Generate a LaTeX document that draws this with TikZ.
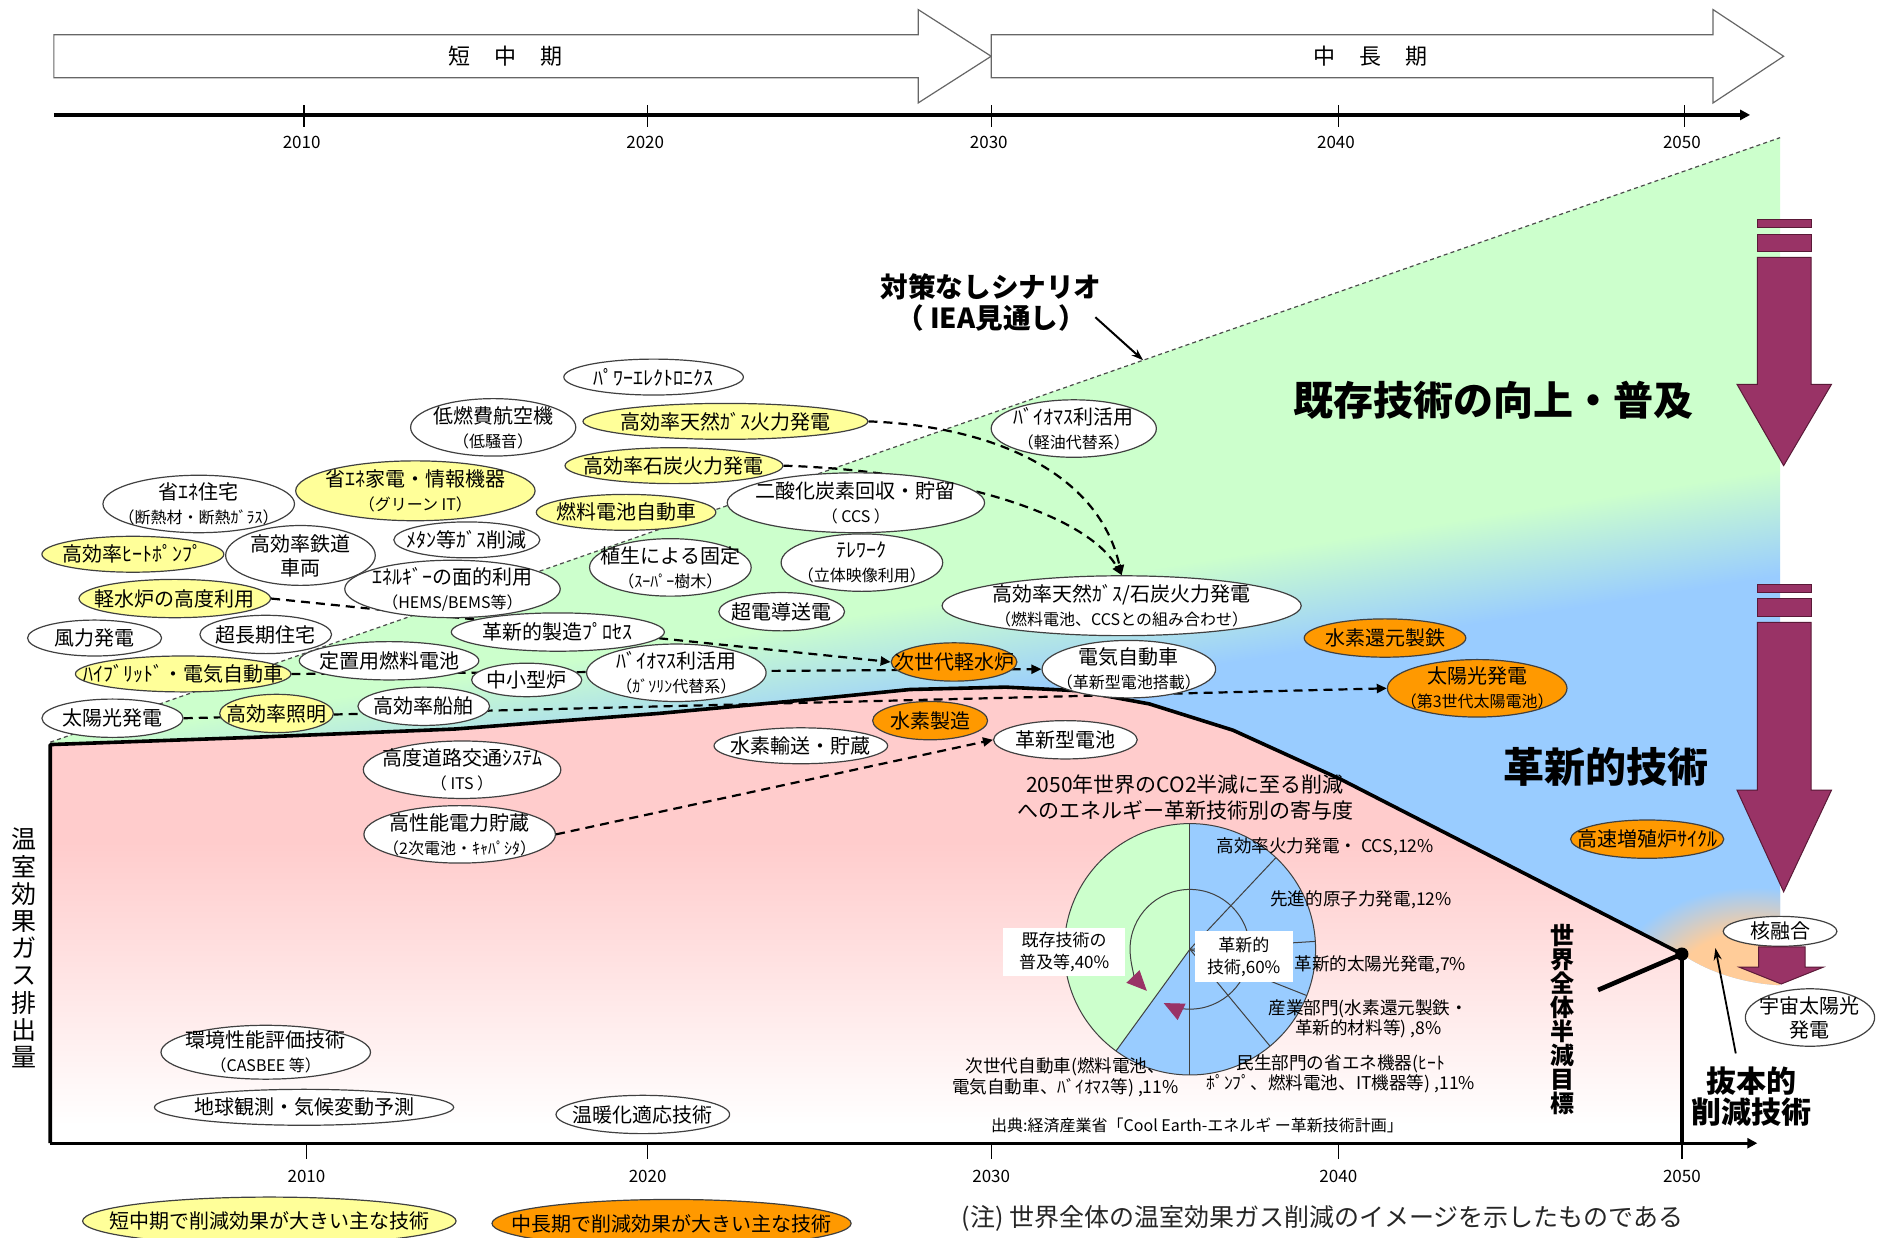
\documentclass[tikz,border=0pt]{standalone}
\usepackage{fontspec}
\setmainfont{Noto Sans CJK JP}
\usetikzlibrary{shapes.geometric,arrows.meta}
\definecolor{mint}{RGB}{204,255,204}
\definecolor{skyb}{RGB}{153,204,255}
\definecolor{pinkc}{RGB}{255,204,204}
\definecolor{peachc}{RGB}{255,204,153}
\definecolor{yel}{RGB}{255,255,153}
\definecolor{orn}{RGB}{255,153,0}
\definecolor{maroon}{RGB}{153,51,102}
\definecolor{maroonline}{RGB}{90,25,55}
\pgfdeclareverticalshading{gbband}{100bp}{color(0bp)=(skyb); color(48.9bp)=(skyb); color(51.1bp)=(mint); color(100bp)=(mint)}
\pgfdeclareverticalshading{pinkfade}{100bp}{color(0bp)=(white); color(27bp)=(white); color(58bp)=(pinkc); color(100bp)=(pinkc)}
\pgfdeclareradialshading{peachglow}{\pgfpoint{0bp}{0bp}}{color(0bp)=(peachc); color(14bp)=(peachc); color(25bp)=(skyb); color(50bp)=(skyb)}
\pgfdeclarelayer{back}
\pgfdeclarelayer{mid}
\pgfsetlayers{back,mid,main}
\newcommand\techfont{\fontsize{10}{12}\selectfont}
\newcommand\techsub{\fontsize{8}{12}\selectfont}
\newcommand\tech[7]{%
  \node[#2, minimum width=#5*0.5985pt, minimum height=#6*0.5985pt] (#1) at (#3,#4) {};
  \node[txt] (#1t) at (#1.center) {#7};}
\begin{document}
\begin{tikzpicture}[x=0.5985pt, y=-0.5985pt,
  ell/.style={ellipse, draw=black!75, line width=0.6pt, fill=white, inner sep=0pt},
  ely/.style={ell, fill=yel},
  elo/.style={ell, fill=orn},
  txt/.style={inner sep=0pt, align=center, font=\techfont},
  conn/.style={line width=1.1pt, dash pattern=on 4.5pt off 3pt, -{Triangle[length=5pt,width=4.5pt]}},
  scenline/.style={line width=0.6pt, black!70, dash pattern=on 2pt off 1.6pt},
  thickl/.style={line width=1.8pt, line join=round},
  axisl/.style={line width=1.6pt, -{Triangle[length=5pt,width=5pt]}},
  tickl/.style={line width=0.6pt},
  yr/.style={inner sep=0pt, font=\fontsize{8.5}{10}\selectfont},
  periodbox/.style={draw=black!60, line width=0.6pt, fill=white},
  marf/.style={fill=maroon, draw=maroonline, line width=0.5pt},
  pieline/.style={draw=black!75, line width=0.5pt},
  pief/.style={inner sep=0pt, align=center, font=\fontsize{8.8}{10.2}\selectfont},
  bigt/.style={inner sep=0pt, align=center, font=\fontsize{20}{24}\selectfont\bfseries},
]
\useasboundingbox (0,0) rectangle (1568,1034);

\begin{pgfonlayer}{back}
\fill[white] (0,0) rectangle (1568,1034);
\begin{scope}
  \clip (42,620) -- (1487,115) -- (1487,823) .. controls (1460,822) and (1428,813) .. (1405,797)
     -- (1120,651) -- (1030,610) -- (960,588) -- (900,577) -- (840,574) -- (760,576) -- (680,584)
     -- (550,596) -- (380,609) -- (210,616) -- (42,622) -- cycle;
  \shade[shading=gbband, shading angle=9] (-200,-455) rectangle (1800,1545);
  \shade[shading=peachglow] (1465,826) ellipse [x radius=120, y radius=85];
\end{scope}
\shade[shading=pinkfade] (42,622) -- (210,616) -- (380,609) -- (550,596) -- (680,584) -- (760,576)
   -- (840,574) -- (900,577) -- (960,588) -- (1030,610) -- (1120,651) -- (1405,797) -- (1405,955) -- (42,955) -- cycle;
\end{pgfonlayer}

% period arrows
\path[periodbox] (45,29) -- (767,29) -- (767,8) -- (828,47) -- (767,86) -- (767,65) -- (45,65) -- cycle;
\path[periodbox] (828,29) -- (1431,29) -- (1431,8) -- (1490,47) -- (1431,86) -- (1431,65) -- (828,65) -- cycle;
\node[font=\fontsize{11}{12}\selectfont, inner sep=0pt] (pshort) at (422,47) {短\hspace{12pt}中\hspace{12pt}期};
\node[font=\fontsize{11}{12}\selectfont, inner sep=0pt] (plong) at (1145,47) {中\hspace{12pt}長\hspace{12pt}期};

% axes
\draw[axisl] (45,96) -- (1462,96);
\foreach \x/\yv in {254/2010, 541/2020, 828/2030, 1118/2040, 1407/2050} {
  \draw[tickl] (\x,88) -- (\x,106);
  \node[yr] (top\yv) at (\x-2,119) {\yv};
}
\draw[axisl] (42,955) -- (1468,955);
\foreach \x/\yv in {256/2010, 541/2020, 828/2030, 1118/2040, 1405/2050} {
  \draw[tickl] (\x,955) -- (\x,968);
  \node[yr] (bot\yv) at (\x,983) {\yv};
}

% technology ellipses
\tech{n1}{ell}{546}{315}{150}{30}{ﾊﾟﾜｰｴﾚｸﾄﾛﾆｸｽ}
\tech{n2}{ell}{412}{357}{138}{48}{低燃費航空機\\{\techsub （低騒音）}}
\tech{n3}{ely}{606}{352}{238}{30}{高効率天然ｶﾞｽ火力発電}
\tech{n4}{ely}{563}{389}{182}{30}{高効率石炭火力発電}
\tech{n5}{ely}{347}{410}{200}{50}{省ｴﾈ家電・情報機器\\{\techsub （グリーン IT）}}
\tech{n6}{ell}{166}{421}{160}{48}{省ｴﾈ住宅\\{\techsub （断熱材・断熱ｶﾞﾗｽ）}}
\tech{n7}{ely}{523}{428}{150}{30}{燃料電池自動車}
\tech{n8}{ell}{715}{420}{215}{50}{二酸化炭素回収・貯留\\{\techsub （ CCS ）}}
\tech{n9}{ell}{897}{358}{138}{48}{ﾊﾞｲｵﾏｽ利活用\\{\techsub （軽油代替系）}}
\tech{n10}{ell}{390}{451}{122}{30}{ﾒﾀﾝ等ｶﾞｽ削減}
\tech{n11}{ely}{111}{463}{152}{30}{高効率ﾋｰﾄﾎﾟﾝﾌﾟ}
\tech{n12}{ell}{251}{464}{125}{50}{高効率鉄道\\車両}
\tech{n13}{ell}{560}{474}{135}{48}{植生による固定\\{\techsub （ｽｰﾊﾟｰ樹木）}}
\tech{n14}{ell}{720}{470}{135}{48}{ﾃﾚﾜｰｸ\\{\techsub （立体映像利用）}}
\tech{n15}{ell}{378}{492}{180}{48}{ｴﾈﾙｷﾞｰの面的利用\\{\techsub （HEMS/BEMS等）}}
\tech{n16}{ely}{146}{500}{160}{32}{軽水炉の高度利用}
\tech{n17}{ell}{653}{511}{105}{32}{超電導送電}
\tech{n18}{ell}{937}{506}{300}{50}{高効率天然ｶﾞｽ/石炭火力発電\\{\techsub （燃料電池、CCSとの組み合わせ）}}
\tech{n19}{ell}{79}{533}{112}{30}{風力発電}
\tech{n20}{ell}{222}{530}{110}{32}{超長期住宅}
\tech{n21}{ell}{466}{528}{178}{32}{革新的製造ﾌﾟﾛｾｽ}
\tech{n22}{elo}{1157}{533}{135}{32}{水素還元製鉄}
\tech{n23}{ely}{153}{563}{180}{30}{ﾊｲﾌﾞﾘｯﾄﾞ・電気自動車}
\tech{n24}{ell}{325}{552}{150}{32}{定置用燃料電池}
\tech{n25}{ell}{440}{568}{92}{28}{中小型炉}
\tech{n26}{ell}{565}{562}{150}{48}{ﾊﾞｲｵﾏｽ利活用\\{\techsub （ｶﾞｿﾘﾝ代替系）}}
\tech{n27}{elo}{797}{553}{105}{32}{次世代軽水炉}
\tech{n28}{ell}{943}{559}{145}{48}{電気自動車\\{\techsub （革新型電池搭載）}}
\tech{n29}{elo}{1234}{575}{150}{48}{太陽光発電\\{\techsub （第3世代太陽電池）}}
\tech{n30}{ell}{94}{600}{118}{32}{太陽光発電}
\tech{n31}{ely}{231}{596}{95}{32}{高効率照明}
\tech{n32}{ell}{354}{590}{110}{32}{高効率船舶}
\tech{n33}{elo}{777}{602}{96}{32}{水素製造}
\tech{n34}{ell}{669}{623}{145}{30}{水素輸送・貯蔵}
\tech{n35}{ell}{890}{618}{120}{32}{革新型電池}
\tech{n36}{ell}{386}{643}{165}{48}{高度道路交通ｼｽﾃﾑ\\{\techsub （ ITS ）}}
\tech{n37}{ell}{384}{697}{160}{48}{高性能電力貯蔵\\{\techsub （2次電池・ｷｬﾊﾟｼﾀ）}}
\tech{n38}{elo}{1376}{701}{128}{32}{高速増殖炉ｻｲｸﾙ}
\tech{n39}{ell}{1487}{778}{95}{25}{核融合}
\tech{n40}{ell}{1512}{850}{108}{48}{宇宙太陽光\\発電}
\tech{n41}{ell}{222}{879}{175}{45}{環境性能評価技術\\{\techsub （CASBEE 等）}}
\tech{n42}{ell}{254}{925}{250}{30}{地球観測・気候変動予測}
\tech{n43}{ell}{537}{931}{145}{32}{温暖化適応技術}
\tech{lg1}{ely}{225}{1020}{312}{40}{短中期で削減効果が大きい主な技術}
\tech{lg2}{elo}{561}{1022}{300}{40}{中長期で削減効果が大きい主な技術}

% goal dot
\node[circle, fill=black, inner sep=0pt, minimum size=11*0.5985pt] (dot) at (1405,797) {};

\begin{pgfonlayer}{mid}
\draw[scenline] (42,620) -- (1487,115);
\draw[thickl] (42,955) -- (42,622) -- (210,616) -- (380,609) -- (550,596) -- (680,584) -- (760,576)
   -- (840,574) -- (900,577) -- (960,588) -- (1030,610) -- (1120,651) -- (dot.center);
\draw[thickl] (dot.center) -- (1405,955);
\draw[conn] (n3.east) .. controls (830,356) and (918,395) .. (n18.north);
\draw[conn] (n4.east) .. controls (780,393) and (905,425) .. (n18.north);
\draw[conn] (n16.east) -- (n27.west);
\draw[conn] (n23.east) -- (n28.west);
\draw[conn] (n30.east) -- (n29.west);
\draw[conn] (n37.east) -- (n35.west);
\end{pgfonlayer}

% big maroon arrows
\filldraw[marf] (1468,183) rectangle (1513,190);
\filldraw[marf] (1468,196) rectangle (1513,210);
\filldraw[marf] (1468,215) -- (1513,215) -- (1513,321) -- (1530,321) -- (1490,389) -- (1451,321) -- (1468,321) -- cycle;
\filldraw[marf] (1468,488) rectangle (1513,495);
\filldraw[marf] (1468,500) rectangle (1513,515);
\filldraw[marf] (1468,520) -- (1513,520) -- (1513,660) -- (1530,660) -- (1490,745) -- (1451,660) -- (1468,660) -- cycle;
\filldraw[marf] (1469,791) -- (1508,791) -- (1508,808) -- (1523,808) -- (1488,822) -- (1453,808) -- (1469,808) -- cycle;

% big labels
\node[inner sep=0pt, align=center, font=\fontsize{13.8}{15.6}\selectfont\bfseries] (scen) at (828,253) {対策なしシナリオ\\（ IEA見通し）};
\coordinate (scenA) at (915,265);
\coordinate (scenB) at (955,301);
\draw[line width=1pt, -{Stealth[length=6pt,width=4pt]}] (scenA) -- (scenB);
\node[bigt] (exist) at (1248,334) {既存技術の向上・普及};
\node[bigt, font=\fontsize{20.5}{24}\selectfont\bfseries] (innov) at (1342,641) {革新的技術};
\node[inner sep=0pt, align=center, font=\fontsize{12.5}{13.6}\selectfont] (ylab) at (20,792) {温\\室\\効\\果\\ガ\\ス\\排\\出\\量};
\node[inner sep=0pt, align=center, font=\fontsize{12}{12}\selectfont\bfseries] (goal) at (1305,852) {世\\界\\全\\体\\半\\減\\目\\標};
\coordinate (goalA) at (1335,827);
\draw[line width=2.3pt] (goalA) -- (dot.center);
\node[inner sep=0pt, align=center, font=\fontsize{15}{15.6}\selectfont\bfseries] (bappon) at (1463,916) {抜本的\\削減技術};
\coordinate (bapA) at (1450,880);
\coordinate (bapB) at (1433,792);
\draw[line width=0.9pt, -{Stealth[length=6pt,width=4pt]}] (bapA) -- (bapB);

% pie chart
\node[inner sep=0pt, align=center, font=\fontsize{10.5}{13.2}\selectfont] (pietitle) at (990,666) {2050年世界のCO2半減に至る削減\\へのエネルギー革新技術別の寄与度};
\begin{scope}[shift={(994,793)}]
 \begin{scope}[y=0.5985pt]
  \fill[mint] (0,0) -- (90:105) arc[start angle=90, end angle=234, radius=105] -- cycle;
  \fill[skyb] (0,0) -- (234:105) arc[start angle=234, end angle=450, radius=105] -- cycle;
  \foreach \a in {90,46.8,3.6,-21.6,-50.4,-90,234} {\draw[pieline] (0,0) -- (\a:105);}
  \draw[pieline] (0,0) circle[radius=105];
  \draw[pieline, -{Triangle[length=10pt,width=9pt,color=maroon]}] (90:50) arc[start angle=90, end angle=224, radius=50];
  \draw[pieline, -{Triangle[length=10pt,width=9pt,color=maroon]}] (90:50) arc[start angle=90, end angle=-116, radius=50];
 \end{scope}
\end{scope}
\node[fill=white, inner sep=0pt, align=center, font=\fontsize{8.5}{11}\selectfont, minimum width=102*0.5985pt, minimum height=40*0.5985pt] (box40) at (889,795) {既存技術の\\普及等,40\%};
\node[fill=white, inner sep=0pt, align=center, font=\fontsize{8.5}{11}\selectfont, minimum width=82*0.5985pt, minimum height=42*0.5985pt] (box60) at (1039,799) {革新的\\技術,60\%};
\node[pief] (pl1) at (1107,707) {高効率火力発電・ CCS,12\%};
\node[pief] (pl2) at (1137,752) {先進的原子力発電,12\%};
\node[pief] (pl3) at (1153,806) {革新的太陽光発電,7\%};
\node[pief] (pl4) at (1143,851) {産業部門(水素還元製鉄・\\革新的材料等) ,8\%};
\node[pief] (pl5) at (1120,897) {民生部門の省エネ機器(ﾋｰﾄ\\ﾎﾟﾝﾌﾟ、燃料電池、IT機器等) ,11\%};
\node[pief] (pl6) at (890,900) {次世代自動車(燃料電池、\\電気自動車、ﾊﾞｲｵﾏｽ等) ,11\%};
\node[inner sep=0pt, font=\fontsize{8}{10}\selectfont] (source) at (1000,940) {出典:経済産業省「Cool Earth-エネルギ ー革新技術計画」};
\node[inner sep=0pt, font=\fontsize{12.5}{14}\selectfont, text=black!85] (note) at (1105,1018) {(注) 世界全体の温室効果ガス削減のイメージを示したものである};
\end{tikzpicture}
\end{document}
